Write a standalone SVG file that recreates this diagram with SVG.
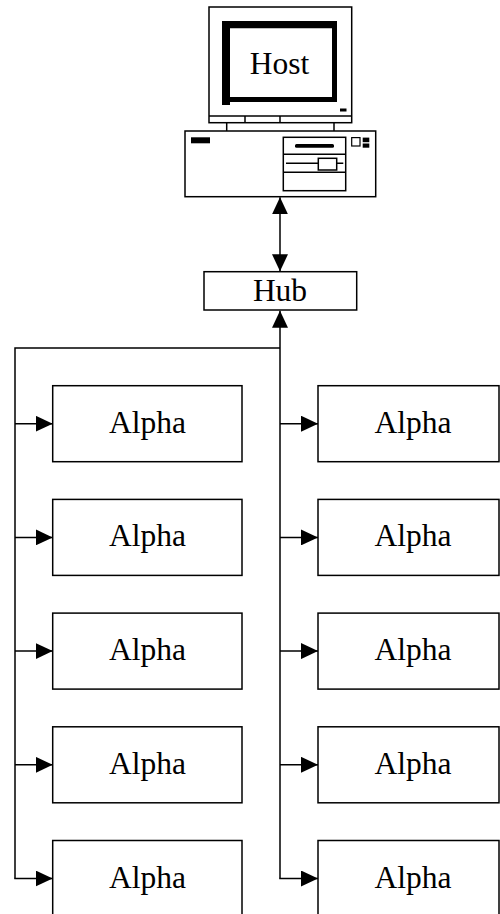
<svg xmlns="http://www.w3.org/2000/svg" width="500" height="914" viewBox="0 0 500 914">
<defs>
<style>
.box{fill:#fff;stroke:#000;stroke-width:1.5}
.ln{fill:none;stroke:#000;stroke-width:1.5}
.lbl{font-family:"Liberation Serif","Times New Roman",serif;font-size:31.5px;fill:#000;text-anchor:middle}
.blk{fill:#000;stroke:none}
.con{fill:none;stroke:#000;stroke-width:1.5}
</style>
<marker id="ah" markerUnits="userSpaceOnUse" markerWidth="17" markerHeight="16" refX="17" refY="8" orient="auto-start-reverse" viewBox="0 0 17 16">
<path d="M0,0 L17,8 L0,16 z" fill="#000"/>
</marker>
</defs>
<rect width="500" height="914" fill="#fff"/>

<g id="host">
<rect class="box" x="209" y="7" width="142.7" height="115.7"/>
<line class="ln" x1="209" y1="116" x2="351.7" y2="116"/>
<line class="ln" x1="245" y1="116" x2="245" y2="122.7"/>
<line class="ln" x1="280" y1="116" x2="280" y2="122.7"/>
<path class="blk" d="M222,21 L337,21 L337,102 L230,102 L230,105 L222,105 z M230,28.3 L230,97 L332,97 L332,28.3 z" fill-rule="evenodd"/>
<rect class="blk" x="340" y="108.5" width="6.5" height="3"/>
<line class="ln" x1="226.7" y1="122.7" x2="226.7" y2="131"/>
<line class="ln" x1="334" y1="122.7" x2="334" y2="131"/>
<rect class="box" x="185" y="131" width="190.7" height="65.7"/>
<rect class="blk" x="191" y="137.3" width="19" height="6"/>
<rect class="box" x="283.3" y="137.3" width="62.4" height="53.4"/>
<line class="ln" x1="283.3" y1="154.3" x2="345.7" y2="154.3"/>
<line class="ln" x1="283.3" y1="172.3" x2="345.7" y2="172.3"/>
<rect class="blk" x="295" y="144" width="39" height="3.7" rx="1.5"/>
<line class="ln" x1="286" y1="163.3" x2="343.3" y2="163.3"/>
<rect class="box" x="318.3" y="158.3" width="18.4" height="11.7"/>
<rect class="box" x="351.7" y="137.6" width="8.3" height="8.4" style="stroke-width:1.2"/>
<rect class="blk" x="362.7" y="137.6" width="6.6" height="4.6"/>
<rect class="blk" x="362.7" y="143.5" width="6.6" height="4.2"/>
<text class="lbl" x="279.5" y="73.5">Host</text>
</g>

<g id="hub">
<rect class="box" x="204" y="271.7" width="152.7" height="38.3"/>
<text class="lbl" x="280" y="301">Hub</text>
</g>

<g id="alpha-l1"><rect class="box" x="52.7" y="385.7" width="189.3" height="76"/><text class="lbl" x="147.5" y="432.7">Alpha</text></g>
<g id="alpha-l2"><rect class="box" x="52.7" y="499.4" width="189.3" height="76"/><text class="lbl" x="147.5" y="546.4">Alpha</text></g>
<g id="alpha-l3"><rect class="box" x="52.7" y="613.1" width="189.3" height="76"/><text class="lbl" x="147.5" y="660.1">Alpha</text></g>
<g id="alpha-l4"><rect class="box" x="52.7" y="726.8" width="189.3" height="76"/><text class="lbl" x="147.5" y="773.8">Alpha</text></g>
<g id="alpha-l5"><rect class="box" x="52.7" y="840.5" width="189.3" height="76"/><text class="lbl" x="147.5" y="887.5">Alpha</text></g>

<g id="alpha-r1"><rect class="box" x="318" y="385.7" width="181" height="76"/><text class="lbl" x="413" y="432.7">Alpha</text></g>
<g id="alpha-r2"><rect class="box" x="318" y="499.4" width="181" height="76"/><text class="lbl" x="413" y="546.4">Alpha</text></g>
<g id="alpha-r3"><rect class="box" x="318" y="613.1" width="181" height="76"/><text class="lbl" x="413" y="660.1">Alpha</text></g>
<g id="alpha-r4"><rect class="box" x="318" y="726.8" width="181" height="76"/><text class="lbl" x="413" y="773.8">Alpha</text></g>
<g id="alpha-r5"><rect class="box" x="318" y="840.5" width="181" height="76"/><text class="lbl" x="413" y="887.5">Alpha</text></g>

<g id="connectors">
<path class="con" d="M280,197.3 L280,271.3" marker-start="url(#ah)" marker-end="url(#ah)"/>
<path class="con" d="M280,348 L280,310.7" marker-end="url(#ah)"/>
<path class="con" d="M280,348 L15,348 L15,878.5"/>
<path class="con" d="M280,348 L280,878.5"/>
<path class="con" d="M15,423.7 L52.7,423.7" marker-end="url(#ah)"/>
<path class="con" d="M15,537.4 L52.7,537.4" marker-end="url(#ah)"/>
<path class="con" d="M15,651.1 L52.7,651.1" marker-end="url(#ah)"/>
<path class="con" d="M15,764.8 L52.7,764.8" marker-end="url(#ah)"/>
<path class="con" d="M14.25,878.5 L52.7,878.5" marker-end="url(#ah)"/>
<path class="con" d="M280,423.7 L318,423.7" marker-end="url(#ah)"/>
<path class="con" d="M280,537.4 L318,537.4" marker-end="url(#ah)"/>
<path class="con" d="M280,651.1 L318,651.1" marker-end="url(#ah)"/>
<path class="con" d="M280,764.8 L318,764.8" marker-end="url(#ah)"/>
<path class="con" d="M279.25,878.5 L318,878.5" marker-end="url(#ah)"/>
</g>
</svg>
